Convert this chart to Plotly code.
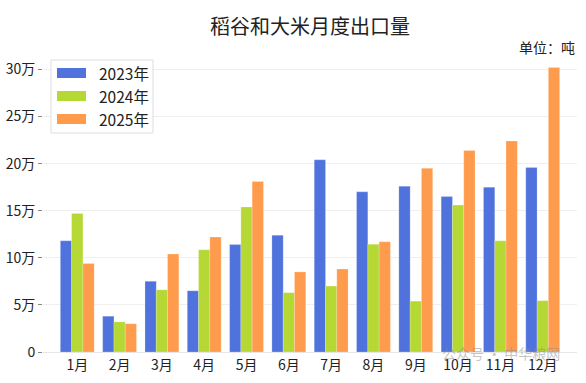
import plotly.graph_objects as go

months = ["1月", "2月", "3月", "4月", "5月", "6月", "7月", "8月", "9月", "10月", "11月", "12月"]
y2023 = [118000, 38000, 75000, 65000, 114000, 124000, 204000, 170000, 176000, 165000, 175000, 196000]
y2024 = [147000, 32000, 66000, 108500, 154000, 63000, 70000, 114500, 54000, 156000, 118000, 54500]
y2025 = [94000, 30000, 104000, 122000, 181000, 85000, 88000, 117000, 195000, 214000, 224000, 302000]
series_names = ["2023年", "2024年", "2025年"]
colors = ["#4F72DD", "#B6D834", "#FF9B4C"]
tick_vals = [0, 50000, 100000, 150000, 200000, 250000, 300000]
tick_text = ["0", "5万", "10万", "15万", "20万", "25万", "30万"]

font = "Noto Sans CJK SC, Noto Sans, sans-serif"

W, H = 586, 383
ML, MR, MT, MB = 43, 9, 60, 31
PW, PH = W - ML - MR, H - MT - MB


def px(x):
    return (x - ML) / PW


def py(y):
    return (H - MB - y) / PH


fig = go.Figure()
for name, vals, c in zip(series_names, [y2023, y2024, y2025], colors):
    fig.add_trace(go.Bar(
        x=months, y=vals, name=name,
        marker=dict(color=c, line=dict(color="rgba(255,255,255,0.35)", width=0.6)),
        showlegend=False,
    ))

fig.update_layout(
    width=W, height=H,
    margin=dict(l=ML, r=MR, t=MT, b=MB, autoexpand=False),
    paper_bgcolor="white", plot_bgcolor="white",
    barmode="group", bargap=0.2, bargroupgap=0,
    font=dict(family=font, size=13, color="#222"),
    title=dict(text="稻谷和大米月度出口量", x=310 / W, xanchor="center",
               y=1 - 27 / H, yanchor="middle", xref="container", yref="container",
               font=dict(size=20, color="#222", family=font)),
    showlegend=False,
)
fig.update_xaxes(
    range=[-0.81, 11.81], showgrid=False, showline=True, linecolor="#E6E6E6",
    ticks="", tickfont=dict(size=14, color="#222"), automargin=False,
)
fig.update_yaxes(
    range=[0, 310000], tickvals=tick_vals, ticktext=tick_text,
    showgrid=True, gridcolor="#EFEFEF", gridwidth=1, zeroline=False,
    ticks="outside", ticklen=4, tickcolor="#888", tickfont=dict(size=14, color="#222"),
    showline=False, automargin=False,
)

# custom legend (wide colour swatches like the reference)
fig.add_shape(type="rect", xref="paper", yref="paper",
              x0=px(51), x1=px(153), y0=py(133), y1=py(60),
              line=dict(color="#DDDDDD", width=1), fillcolor="white", layer="above")
row_y = [73, 96, 119]
for name, c, ry in zip(series_names, colors, row_y):
    fig.add_shape(type="rect", xref="paper", yref="paper",
                  x0=px(57), x1=px(86), y0=py(ry + 5), y1=py(ry - 5),
                  line=dict(width=0), fillcolor=c, layer="above")
    fig.add_annotation(text=name, xref="paper", yref="paper", x=px(97), y=py(ry),
                       xanchor="left", yanchor="middle", showarrow=False,
                       font=dict(size=15.5, color="#222"))

fig.add_annotation(text="单位：吨", xref="paper", yref="paper", x=px(577), y=py(47),
                   xanchor="right", yanchor="middle", showarrow=False,
                   font=dict(size=14, color="#222"))
fig.add_annotation(text="公众号 · 中华粮网", xref="paper", yref="paper", x=px(562), y=py(353),
                   xanchor="right", yanchor="middle", showarrow=False,
                   font=dict(size=14, color="rgba(140,140,140,0.5)"))

fig.write_html("out.html", config={"displayModeBar": False},
               post_script="document.body.style.margin='0';document.body.style.overflow='hidden';")
